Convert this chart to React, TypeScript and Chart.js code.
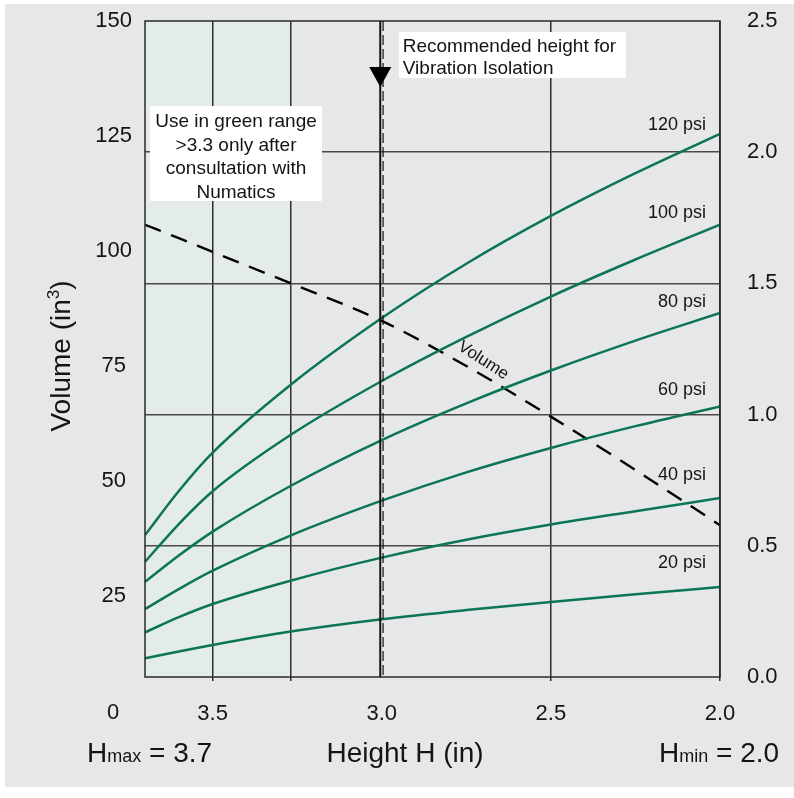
import React, { useEffect, useRef } from 'react';
import { Chart, registerables } from 'chart.js';

Chart.register(...registerables);

// ---- data ----
const HEIGHTS = [3.7, 3.6, 3.5, 3.27, 3.0, 2.75, 2.5, 2.25, 2.0];
const PSI_LABELS = ['120 psi', '100 psi', '80 psi', '60 psi', '40 psi', '20 psi'];
const PSI_120 = [0.541, 0.709, 0.855, 1.113, 1.368, 1.575, 1.757, 1.920, 2.070];
const PSI_100 = [0.439, 0.583, 0.708, 0.922, 1.128, 1.296, 1.450, 1.591, 1.724];
const PSI_80 = [0.363, 0.463, 0.554, 0.728, 0.903, 1.043, 1.168, 1.282, 1.387];
const PSI_60 = [0.259, 0.335, 0.405, 0.539, 0.672, 0.780, 0.873, 0.956, 1.031];
const PSI_40 = [0.170, 0.228, 0.278, 0.367, 0.455, 0.523, 0.581, 0.632, 0.682];
const PSI_20 = [0.071, 0.097, 0.122, 0.173, 0.220, 0.255, 0.286, 0.315, 0.343];
const VOLUME = [105.7, 102.8, 99.8, 93.0, 84.8, 75.0, 64.0, 52.4, 40.4];
const PSI_LABEL_Y = [2.104, 1.767, 1.43, 1.094, 0.77, 0.433];
const X_TICKS = [2.0, 2.5, 3.0, 3.5];
const LEFT_TICKS = [25, 50, 75, 100, 125, 150];
const RIGHT_TICKS = [0, 0.5, 1.0, 1.5, 2.0, 2.5];
const GREEN_LIMIT = 3.27;
const RECOMMENDED = 3.0;
const H_MAX = 3.7;
const H_MIN = 2.0;

const FONT = '"Liberation Sans", Arial, Helvetica, sans-serif';
const GREEN = '#0b7556';
const TEXT = '#141414';

const bgPlugin = {
  id: 'bg',
  beforeDraw(chart: any) {
    const { ctx, chartArea: a, scales } = chart;
    ctx.save();
    ctx.fillStyle = '#ffffff';
    ctx.fillRect(0, 0, chart.width, chart.height);
    ctx.fillStyle = '#e6e7e8';
    ctx.fillRect(5, 4, chart.width - 5, chart.height - 15);
    const gx = scales.x.getPixelForValue(GREEN_LIMIT);
    ctx.fillStyle = '#e3ece8';
    ctx.fillRect(a.left, a.top, gx - a.left, a.bottom - a.top);
    ctx.restore();
  },
};

function box(ctx: any, x: number, y: number, w: number, h: number) {
  ctx.fillStyle = '#ffffff';
  ctx.fillRect(x, y, w, h);
}

const overlayPlugin = {
  id: 'overlay',
  afterDatasetsDraw(chart: any) {
    const { ctx, chartArea: a, scales } = chart;
    const xs = scales.x;
    const yl = scales.yL;
    const yr = scales.yR;
    ctx.save();

    // plot border
    ctx.strokeStyle = '#2a2a2a';
    ctx.lineWidth = 1.5;
    ctx.strokeRect(a.left, a.top, a.right - a.left, a.bottom - a.top);

    // recommended height line (solid arrow stem + dashed line)
    const rx = xs.getPixelForValue(RECOMMENDED);
    ctx.strokeStyle = '#111';
    ctx.lineWidth = 2;
    ctx.beginPath();
    ctx.moveTo(rx - 1.5, a.top);
    ctx.lineTo(rx - 1.5, a.bottom);
    ctx.stroke();
    ctx.lineWidth = 1.2;
    ctx.setLineDash([10, 4]);
    ctx.beginPath();
    ctx.moveTo(rx + 1.3, a.top);
    ctx.lineTo(rx + 1.3, a.bottom);
    ctx.stroke();
    ctx.setLineDash([]);
    ctx.fillStyle = '#000';
    ctx.beginPath();
    ctx.moveTo(rx - 1.5 - 11, a.top + 46);
    ctx.lineTo(rx - 1.5 + 11, a.top + 46);
    ctx.lineTo(rx - 1.5, a.top + 66);
    ctx.closePath();
    ctx.fill();

    // note boxes
    ctx.font = `19px ${FONT}`;
    box(ctx, a.left + 5, a.top + 85, 172, 95);
    ctx.fillStyle = TEXT;
    ctx.textAlign = 'center';
    ctx.textBaseline = 'middle';
    const lines1 = ['Use in green range', '>3.3 only after', 'consultation with', 'Numatics'];
    lines1.forEach((t, i) => ctx.fillText(t, a.left + 91, a.top + 101 + i * 23.5));

    box(ctx, rx + 17, a.top + 11, 227, 46);
    ctx.fillStyle = TEXT;
    ctx.textAlign = 'left';
    ['Recommended height for', 'Vibration Isolation'].forEach((t, i) =>
      ctx.fillText(t, rx + 21, a.top + 26 + i * 21.5)
    );

    // psi labels
    ctx.font = `18px ${FONT}`;
    ctx.textAlign = 'right';
    PSI_LABELS.forEach((t, i) => ctx.fillText(t, a.right - 14, yr.getPixelForValue(PSI_LABEL_Y[i])));

    // Volume label along dashed line
    ctx.save();
    ctx.translate(xs.getPixelForValue(2.7), yl.getPixelForValue(76.2));
    ctx.rotate((33 * Math.PI) / 180);
    ctx.font = `17px ${FONT}`;
    ctx.textAlign = 'center';
    ctx.fillText('Volume', 0, 0);
    ctx.restore();

    // "0" of volume axis (below plot)
    ctx.font = `22px ${FONT}`;
    ctx.textAlign = 'center';
    ctx.fillText('0', 113, yl.getPixelForValue(0) + 2);

    // left axis title with superscript
    ctx.save();
    ctx.translate(70, 356);
    ctx.rotate(-Math.PI / 2);
    ctx.textBaseline = 'alphabetic';
    const p1 = 'Volume (in';
    const p3 = ')';
    ctx.font = `28px ${FONT}`;
    const w1 = ctx.measureText(p1).width;
    const w3 = ctx.measureText(p3).width;
    ctx.font = `17px ${FONT}`;
    const w2 = ctx.measureText('3').width;
    let cx = -(w1 + w2 + w3) / 2;
    ctx.textAlign = 'left';
    ctx.font = `28px ${FONT}`;
    ctx.fillText(p1, cx, 0);
    cx += w1;
    ctx.font = `17px ${FONT}`;
    ctx.fillText('3', cx, -11);
    cx += w2;
    ctx.font = `28px ${FONT}`;
    ctx.fillText(p3, cx, 0);
    ctx.restore();

    // bottom labels
    const base = 762;
    ctx.textBaseline = 'alphabetic';
    ctx.textAlign = 'left';
    const drawH = (x: number, sub: string, rest: string) => {
      ctx.font = `28px ${FONT}`;
      ctx.fillText('H', x, base);
      let hx = x + ctx.measureText('H').width;
      ctx.font = `18px ${FONT}`;
      ctx.fillText(sub, hx, base);
      hx += ctx.measureText(sub).width;
      ctx.font = `28px ${FONT}`;
      ctx.fillText(rest, hx, base);
    };
    drawH(87, 'max', ` = ${H_MAX.toFixed(1)}`);
    drawH(659, 'min', ` = ${H_MIN.toFixed(1)}`);
    ctx.font = `28px ${FONT}`;
    ctx.textAlign = 'center';
    ctx.fillText('Height H (in)', 405, base);

    ctx.restore();
  },
};

export default function App() {
  const ref = useRef<HTMLCanvasElement>(null);
  useEffect(() => {
    document.body.style.margin = '0';
    const canvas = ref.current!;
    const pts = (arr: number[]) => HEIGHTS.map((h, i) => ({ x: h, y: arr[i] }));
    const psiSeries = [PSI_120, PSI_100, PSI_80, PSI_60, PSI_40, PSI_20];
    const datasets: any[] = psiSeries.map((s, i) => ({
      label: PSI_LABELS[i],
      data: pts(s),
      yAxisID: 'yR',
      borderColor: GREEN,
      borderWidth: 2.5,
      pointRadius: 0,
      cubicInterpolationMode: 'monotone',
      fill: false,
    }));
    datasets.push({
      label: 'Volume',
      data: pts(VOLUME),
      yAxisID: 'yL',
      borderColor: '#000',
      borderWidth: 2.4,
      borderDash: [17, 11],
      pointRadius: 0,
      cubicInterpolationMode: 'monotone',
      fill: false,
    });

    const noPadV = (s: any) => {
      s.paddingTop = 0;
      s.paddingBottom = 0;
    };

    const chart = new Chart(canvas, {
      type: 'line',
      data: { datasets },
      options: {
        responsive: false,
        animation: false,
        layout: { padding: { top: 21, left: 0, right: 0, bottom: 0 } },
        plugins: { legend: { display: false }, tooltip: { enabled: false } },
        scales: {
          x: {
            type: 'linear',
            min: H_MIN,
            max: H_MAX,
            reverse: true,
            afterBuildTicks: (s: any) => {
              s.ticks = [...X_TICKS, GREEN_LIMIT].sort((p, q) => p - q).map((v) => ({ value: v }));
            },
            afterFit: (s: any) => {
              s.height = 121;
              s.paddingLeft = 0;
              s.paddingRight = 0;
            },
            ticks: {
              autoSkip: false,
              maxRotation: 0,
              padding: 20,
              color: TEXT,
              font: { family: FONT, size: 22 },
              callback: (v: any) => (X_TICKS.includes(Number(v)) ? Number(v).toFixed(1) : ''),
            },
            grid: {
              color: (c: any) => (c.tick && c.tick.value === RECOMMENDED ? 'rgba(0,0,0,0)' : '#2e2e2e'),
              lineWidth: 1.5,
              tickLength: 4,
              drawTicks: true,
            },
            border: { display: false },
          },
          yL: {
            type: 'linear',
            position: 'left',
            min: 7.4,
            max: 150,
            afterBuildTicks: (s: any) => {
              s.ticks = LEFT_TICKS.map((v) => ({ value: v }));
            },
            afterFit: (s: any) => {
              s.width = 145;
              noPadV(s);
            },
            ticks: {
              crossAlign: 'center',
              padding: 13,
              color: TEXT,
              font: { family: FONT, size: 22 },
            },
            grid: { display: false, drawTicks: false },
            border: { display: false },
          },
          yR: {
            type: 'linear',
            position: 'right',
            min: 0,
            max: 2.5,
            afterBuildTicks: (s: any) => {
              s.ticks = RIGHT_TICKS.map((v) => ({ value: v }));
            },
            afterFit: (s: any) => {
              s.width = 74;
              noPadV(s);
            },
            ticks: {
              padding: 27,
              color: TEXT,
              font: { family: FONT, size: 22 },
              callback: (v: any) => Number(v).toFixed(1),
            },
            grid: {
              color: (c: any) =>
                c.tick && (c.tick.value === 0 || c.tick.value === 2.5) ? 'rgba(0,0,0,0)' : '#4a4a4a',
              lineWidth: 1.6,
              drawTicks: false,
            },
            border: { display: false },
          },
        },
      } as any,
      plugins: [bgPlugin, overlayPlugin],
    });
    return () => chart.destroy();
  }, []);

  return (
    <div style={{ width: 794, height: 798 }}>
      <canvas ref={ref} width={794} height={798} style={{ display: 'block' }} />
    </div>
  );
}
